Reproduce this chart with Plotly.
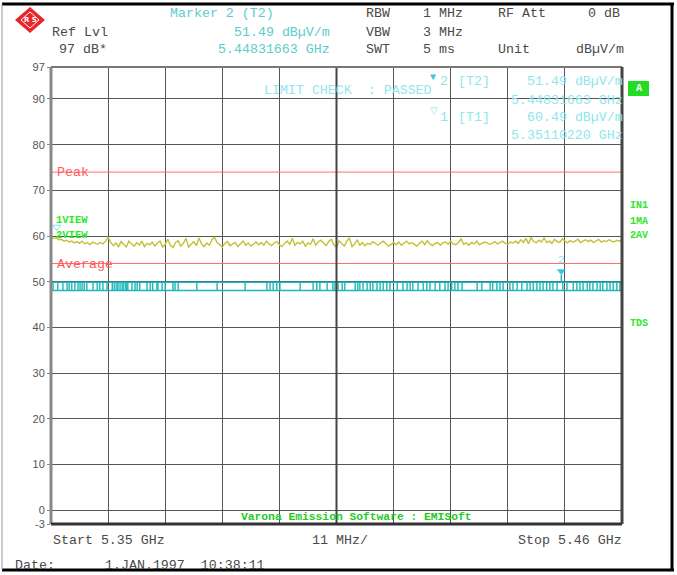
import numpy as np
import plotly.graph_objects as go

# sweep / display settings
F_START, F_STOP = 5.35, 5.46
Y_MIN, Y_MAX = -3, 97
Y_TICKS = [-3, 0, 10, 20, 30, 40, 50, 60, 70, 80, 90, 97]

PEAK_LIMIT = 74
AVG_LIMIT = 54

M1_FREQ, M1_LEVEL = 5.35110220, 60.49
M2_FREQ, M2_LEVEL = 5.44831663, 51.49

# trace 1 (max hold / peak), 0.5 MHz steps from 5.350 to 5.460 GHz
PEAK_TRACE = [
    59.8, 59.5, 59.6, 59.2, 59.3, 58.9, 59.1, 58.7, 58.9, 58.5, 58.8, 58.4, 58.9, 58.3, 58.6, 58.1, 58.7, 58.4, 58.2, 58.6,
    58.3, 58.9, 59.7, 58.6, 57.9, 58.5, 57.7, 58.8, 58.2, 57.6, 58.9, 58.3, 57.8, 58.6, 58.0, 58.9, 57.7, 58.4, 58.1, 58.7,
    57.8, 58.5, 58.9, 57.6, 58.2, 59.3, 58.0, 57.5, 58.6, 59.0, 57.8, 58.4, 59.5, 57.6, 58.2, 58.8, 57.9, 59.6, 58.3, 57.7,
    58.5, 58.0, 59.2, 59.7, 58.6, 58.1, 57.6, 58.4, 58.8, 57.9, 58.3, 58.6, 57.7, 58.2, 58.9, 58.0, 58.5, 57.8, 58.3, 58.7,
    58.1, 58.6, 58.0, 58.9, 58.3, 57.9, 58.5, 58.8, 58.1, 57.7, 58.4, 58.9, 58.2, 59.5, 58.0, 58.6, 58.3, 58.9, 57.8, 58.5,
    58.2, 59.4, 58.0, 58.7, 59.1, 58.4, 57.9, 58.8, 59.3, 58.1, 57.6, 59.0, 58.5, 57.8, 58.9, 59.6, 57.7, 58.3, 59.2, 58.0,
    58.6, 57.9, 58.4, 58.2, 58.8, 58.3, 58.0, 58.5, 58.9, 58.4, 57.8, 58.2, 58.6, 58.1, 58.7, 58.0, 58.4, 58.9, 58.3, 58.6,
    58.2, 57.8, 58.5, 58.9, 58.1, 59.0, 58.3, 57.9, 58.4, 58.6, 58.0, 58.5, 58.7, 58.2, 58.9, 58.3, 58.1, 58.6, 59.4, 58.2,
    58.5, 58.0, 58.6, 58.3, 58.9, 58.1, 58.4, 58.7, 58.5, 58.2, 58.4, 58.8, 58.3, 58.6, 58.9, 58.4, 58.2, 58.7, 58.5, 58.9,
    58.4, 59.2, 58.6, 59.5, 58.3, 59.7, 58.8, 58.5, 59.1, 58.7, 59.6, 58.6, 58.9, 58.4, 59.3, 58.8, 58.6, 59.4, 58.9, 58.5,
    59.0, 58.7, 58.9, 59.3, 58.6, 58.9, 59.2, 58.8, 59.1, 58.6, 58.9, 59.3, 58.7, 59.0, 58.8, 59.2, 58.9, 58.7, 59.1, 58.9,
    59.2,
]

# trace 2 (average): toggles between two levels, jump frequencies in GHz
AVG_HI, AVG_LO = 49.9, 48.1
AVG_JUMPS = [
    5.3504, 5.3513, 5.3523, 5.3531, 5.3535, 5.3540, 5.3546, 5.3552, 5.3556, 5.3560, 5.3564, 5.3569,
    5.3581, 5.3589, 5.3594, 5.3600, 5.3608, 5.3618, 5.3619, 5.3623, 5.3627, 5.3629, 5.3633, 5.3637,
    5.3639, 5.3643, 5.3646, 5.3648, 5.3656, 5.3662, 5.3666, 5.3671, 5.3685, 5.3691, 5.3696, 5.3704,
    5.3706, 5.3714, 5.3720, 5.3735, 5.3739, 5.3745, 5.3781, 5.3820, 5.3874, 5.3916, 5.3922, 5.3928,
    5.3935, 5.3941, 5.3980, 5.4005, 5.4012, 5.4018, 5.4032, 5.4043, 5.4047, 5.4053, 5.4061, 5.4066,
    5.4086, 5.4091, 5.4095, 5.4101, 5.4109, 5.4115, 5.4120, 5.4128, 5.4134, 5.4140, 5.4147, 5.4153,
    5.4167, 5.4178, 5.4186, 5.4192, 5.4197, 5.4207, 5.4217, 5.4224, 5.4230, 5.4240, 5.4249, 5.4259,
    5.4265, 5.4272, 5.4278, 5.4284, 5.4292, 5.4321, 5.4330, 5.4346, 5.4351, 5.4359, 5.4365, 5.4371,
    5.4384, 5.4390, 5.4398, 5.4407, 5.4417, 5.4423, 5.4429, 5.4436, 5.4442, 5.4448, 5.4455, 5.4461,
    5.4467, 5.4475, 5.4486, 5.4494, 5.4506, 5.4513, 5.4519, 5.4525, 5.4533, 5.4538, 5.4544, 5.4552,
    5.4558, 5.4563, 5.4571, 5.4577, 5.4583, 5.4590, 5.4596,
]
AVG_START = 5.3502

MONO = "Liberation Mono"
GRAY = "#4a4a4a"
CYAN = "#5ccccc"
CYAN_LT = "#8fe6ec"
GREEN = "#2ee82e"
RED = "#ff5a5a"
YELLOW = "#c4c034"
TEAL = "#1fb6b8"

# pixel frame of the plot area (for placing screen text)
PL, PR, PT, PB = 51, 622, 67, 524


def px(x):
    return (x - PL) / (PR - PL)


def py(y):
    return (PB - y) / (PB - PT)


fig = go.Figure()

freqs = np.linspace(F_START, F_STOP, len(PEAK_TRACE))

# limit lines
for lvl in (PEAK_LIMIT, AVG_LIMIT):
    fig.add_trace(go.Scatter(x=[F_START, F_STOP], y=[lvl, lvl], mode="lines",
                             line=dict(color="#ff6e6e", width=1), hoverinfo="skip"))

# average trace: two levels + jump edges
ax, ay = [AVG_START, F_STOP, None, AVG_START, F_STOP, None], [AVG_HI, AVG_HI, None, AVG_LO, AVG_LO, None]
for f in AVG_JUMPS:
    ax += [f, f, None]
    ay += [AVG_LO, AVG_HI, None]
fig.add_trace(go.Scatter(x=ax, y=ay, mode="lines", line=dict(color=TEAL, width=1.4),
                         connectgaps=False, hoverinfo="skip"))

# peak trace
fig.add_trace(go.Scatter(x=freqs, y=PEAK_TRACE, mode="lines",
                         line=dict(color=YELLOW, width=1.4), name="1VIEW"))

# markers
fig.add_trace(go.Scatter(x=[M2_FREQ, M2_FREQ], y=[AVG_HI, M2_LEVEL], mode="lines",
                         line=dict(color=TEAL, width=1.5), hoverinfo="skip"))
fig.add_trace(go.Scatter(x=[M2_FREQ], y=[M2_LEVEL + 0.8], mode="markers+text", text=["2"],
                         textposition="top center", textfont=dict(family=MONO, size=11, color=CYAN_LT),
                         marker=dict(symbol="triangle-down", size=8, color="#3cc8d4")))
fig.add_trace(go.Scatter(x=[M1_FREQ], y=[M1_LEVEL + 1.5], mode="markers",
                         marker=dict(symbol="triangle-down-open", size=7, color="#7fe0ea")))


def txt(x, y, s, color, size=13.3, anchor="left", family=MONO, bold=False):
    fig.add_annotation(x=px(x), y=py(y), xref="paper", yref="paper", text=f"<b>{s}</b>" if bold else s,
                       showarrow=False, xanchor=anchor, yanchor="middle", borderpad=0,
                       font=dict(family=family, size=size, color=color))


# header
txt(51, 32, "Ref Lvl", GRAY)
txt(58, 50, "97 dB*", GRAY)
txt(169, 14, "Marker 2 (T2)", CYAN)
txt(331, 32, f"{M2_LEVEL:.2f} dBµV/m", CYAN, anchor="right")
txt(331, 50, f"{M2_FREQ:.8f} GHz", CYAN, anchor="right")
txt(365, 14, "RBW", GRAY)
txt(422, 14, "1 MHz", GRAY)
txt(497, 14, "RF Att", GRAY)
txt(587, 14, "0 dB", GRAY)
txt(365, 32, "VBW", GRAY)
txt(422, 32, "3 MHz", GRAY)
txt(365, 50, "SWT", GRAY)
txt(422, 50, "5 ms", GRAY)
txt(497, 50, "Unit", GRAY)
txt(575, 50, "dBµV/m", GRAY)

# in-grid readouts
txt(263, 90, "LIMIT CHECK  : PASSED", CYAN_LT)
txt(429, 77, "▼", "#3cc8d4", size=10)
txt(439, 82, "2", CYAN_LT)
txt(457, 82, "[T2]", CYAN_LT)
txt(624, 82, f"{M2_LEVEL:.2f} dBµV/m", CYAN_LT, anchor="right")
txt(624, 100, f"{M2_FREQ:.8f} GHz", CYAN_LT, anchor="right")
txt(429, 112, "▽", CYAN_LT, size=10)
txt(439, 117, "1", CYAN_LT)
txt(457, 117, "[T1]", CYAN_LT)
txt(624, 117, f"{M1_LEVEL:.2f} dBµV/m", CYAN_LT, anchor="right")
txt(624, 135, f"{M1_FREQ:.8f} GHz", CYAN_LT, anchor="right")

# limit labels and trace labels
txt(56, 172, "Peak", RED)
txt(56, 264, "Average", RED)
txt(55, 220, "1VIEW", GREEN, size=10.5, bold=True)
txt(55, 235, "2VIEW", GREEN, size=10.5, bold=True)

# right side status
fig.add_shape(type="rect", xref="paper", yref="paper", x0=px(628), x1=px(649), y0=py(96), y1=py(81),
              fillcolor="#22dd22", line=dict(width=0))
txt(638.5, 88.5, "A", "white", size=10, anchor="center", bold=True)
for y, s in [(206, "IN1"), (221, "1MA"), (236, "2AV"), (323, "TDS")]:
    txt(629, y, s, GREEN, size=10, bold=True)

txt(240, 517, "Varona Emission Software : EMISoft", "#22cc22", size=11.3, bold=True)

# footer
txt(52, 540, f"Start {F_START:.2f} GHz", GRAY)
txt(311, 540, "11 MHz/", GRAY)
txt(623, 540, f"Stop {F_STOP:.2f} GHz", GRAY, anchor="right")
txt(14, 565, "Date:", GRAY)
txt(104, 565, "1.JAN.1997  10:38:11", GRAY)

# R&S logo
cx, cy, hw, hh = 30, 20, 15, 13
fig.add_shape(type="path", xref="paper", yref="paper",
              path=f"M {px(cx)},{py(cy - hh)} L {px(cx + hw)},{py(cy)} L {px(cx)},{py(cy + hh)} L {px(cx - hw)},{py(cy)} Z",
              fillcolor="#e8262b", line=dict(width=0))
fig.add_shape(type="path", xref="paper", yref="paper",
              path=f"M {px(cx)},{py(cy - hh + 5)} L {px(cx + hw - 6)},{py(cy)} L {px(cx)},{py(cy + hh - 5)} L {px(cx - hw + 6)},{py(cy)} Z",
              line=dict(color="white", width=1))
txt(cx, cy, "R S", "white", size=7, anchor="center", family="DejaVu Sans", bold=True)

# plot frame and center line
fig.add_shape(type="line", xref="x", yref="paper", x0=(F_START + F_STOP) / 2, x1=(F_START + F_STOP) / 2,
              y0=0, y1=1, line=dict(color="#444", width=2))
fig.add_shape(type="line", xref="paper", yref="paper", x0=0, x1=0, y0=0, y1=1, line=dict(color="#888", width=3))
fig.add_shape(type="line", xref="paper", yref="paper", x0=0, x1=1, y0=1, y1=1, line=dict(color="#777", width=2))
fig.add_shape(type="line", xref="paper", yref="paper", x0=1, x1=1, y0=0, y1=1, line=dict(color="#444", width=3))
fig.add_shape(type="line", xref="paper", yref="paper", x0=0, x1=1, y0=0, y1=0, line=dict(color="#333", width=3))

# outer page frame
fig.add_shape(type="line", xref="paper", yref="paper", x0=px(2), x1=px(674), y0=py(4), y1=py(4),
              line=dict(color="black", width=3))
fig.add_shape(type="line", xref="paper", yref="paper", x0=px(672), x1=px(672), y0=py(4), y1=py(570),
              line=dict(color="black", width=3))
fig.add_shape(type="line", xref="paper", yref="paper", x0=px(2), x1=px(674), y0=py(570), y1=py(570),
              line=dict(color="black", width=3))
fig.add_shape(type="line", xref="paper", yref="paper", x0=px(2), x1=px(2), y0=py(4), y1=py(570),
              line=dict(color="#999", width=1))

fig.update_layout(
    width=677, height=575,
    margin=dict(l=PL, r=677 - PR, t=PT, b=575 - PB),
    plot_bgcolor="white", paper_bgcolor="white",
    showlegend=False,
    xaxis=dict(range=[F_START, F_STOP], tickvals=[F_START + i * (F_STOP - F_START) / 10 for i in range(11)],
               showticklabels=False, showgrid=True, gridcolor="#555", gridwidth=1, zeroline=False, ticks=""),
    yaxis=dict(range=[Y_MIN, Y_MAX], tickvals=Y_TICKS, ticktext=[str(t) for t in Y_TICKS],
               showgrid=True, gridcolor="#555", gridwidth=1, zeroline=False,
               ticks="outside", ticklen=3, tickcolor="#888",
               tickfont=dict(family="Liberation Sans", size=11, color="#555")),
)

# page body margin would shift the 677x575 figure inside the window
fig.write_html("out.html", config={"displayModeBar": False},
               post_script="document.body.style.margin = '0';")
